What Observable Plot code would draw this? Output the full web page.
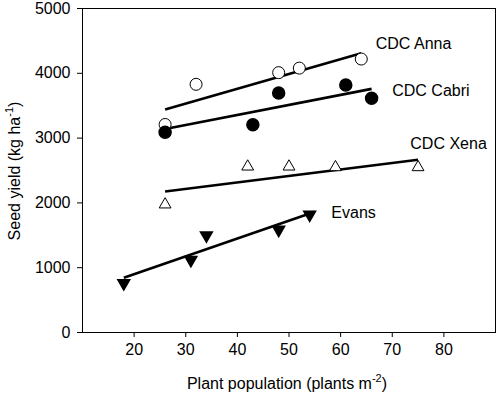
<!DOCTYPE html>
<html><head><meta charset="utf-8">
<script src="https://cdn.jsdelivr.net/npm/d3@7"></script>
<script src="https://cdn.jsdelivr.net/npm/@observablehq/plot@0.6"></script>
<style>body{margin:0;background:#fff}</style>
</head><body><div id="chart"></div>
<script>
const annaX = [26, 32, 48, 52, 64];
const annaY = [3210, 3830, 4010, 4080, 4220];
const cabriX = [26, 43, 48, 61, 66];
const cabriY = [3090, 3205, 3695, 3820, 3615];
const xenaX = [26, 42, 50, 59, 75];
const xenaY = [1975, 2560, 2560, 2550, 2550];
const evansX = [18, 31, 34, 48, 54];
const evansY = [760, 1120, 1500, 1585, 1820];

const fitSeries = ["CDC Anna", "CDC Cabri", "CDC Xena", "Evans"];
const fitX0 = [26, 26, 26, 18];
const fitX1 = [64, 66, 75, 55];
const fitY0 = [3440, 3140, 2175, 845];
const fitY1 = [4310, 3760, 2665, 1865];

const labelText = ["CDC Anna", "CDC Cabri", "CDC Xena", "Evans"];
const labelX = [66.8, 70, 73.5, 58.2];
const labelY = [4460, 3735, 2917, 1852];

const xTicks = [20, 30, 40, 50, 60, 70, 80];
const yTicks = [0, 1000, 2000, 3000, 4000, 5000];

const pts = (xs, ys) => xs.map((x, i) => ({x, y: ys[i]}));
const fits = fitSeries.map((s, i) => ({s, x0: fitX0[i], x1: fitX1[i], y0: fitY0[i], y1: fitY1[i]}));
const labels = labelText.map((t, i) => ({t, x: labelX[i], y: labelY[i]}));

const font = "'Liberation Sans', Arial, sans-serif";
const plot = Plot.plot({
  width: 499, height: 397,
  marginLeft: 82, marginRight: 4, marginTop: 8, marginBottom: 65,
  style: {fontFamily: font, fontSize: "16px", color: "#000", background: "#fff"},
  x: {domain: [10, 90]},
  y: {domain: [0, 5000]},
  marks: [
    Plot.axisX(xTicks, {tickSize: 5, tickPadding: 6, fontSize: 16, label: null, tickFormat: "d"}),
    Plot.axisY(yTicks, {tickSize: 5, tickPadding: 7, fontSize: 16, label: null, tickFormat: "d"}),
    Plot.frame({stroke: "#000", strokeWidth: 1}),
    Plot.link(fits, {x1: "x0", y1: "y0", x2: "x1", y2: "y1", stroke: "#000", strokeWidth: 2.6}),
    Plot.dot(pts(annaX, annaY), {x: "x", y: "y", r: 6, fill: "#fff", stroke: "#000", strokeWidth: 1}),
    Plot.dot(pts(cabriX, cabriY), {x: "x", y: "y", r: 6, fill: "#000", stroke: "#000"}),
    Plot.dot(pts(xenaX, xenaY), {x: "x", y: "y", r: 4.4, symbol: "triangle", fill: "#fff", stroke: "#000", strokeWidth: 1}),
    Plot.dot(pts(evansX, evansY), {x: "x", y: "y", r: 4.4, symbol: "triangle", rotate: 180, fill: "#000", stroke: "#000"}),
    Plot.text(labels, {x: "x", y: "y", text: "t", textAnchor: "start", fontSize: 16, fill: "#000"})
  ]
});
document.getElementById("chart").appendChild(plot);

const svg = d3.select(plot);
const yl = svg.append("text")
  .attr("transform", "translate(20,171) rotate(-90)")
  .attr("text-anchor", "middle")
  .attr("font-family", font).attr("font-size", 16).attr("fill", "#000");
yl.append("tspan").text("Seed yield (kg ha");
yl.append("tspan").attr("dy", -7).attr("font-size", 11).text("-1");
yl.append("tspan").attr("dy", 7).text(")");

const xl = svg.append("text")
  .attr("x", 287).attr("y", 389)
  .attr("text-anchor", "middle")
  .attr("font-family", font).attr("font-size", 16).attr("fill", "#000");
xl.append("tspan").text("Plant population (plants m");
xl.append("tspan").attr("dy", -7).attr("font-size", 11).text("-2");
xl.append("tspan").attr("dy", 7).text(")");
</script></body></html>
